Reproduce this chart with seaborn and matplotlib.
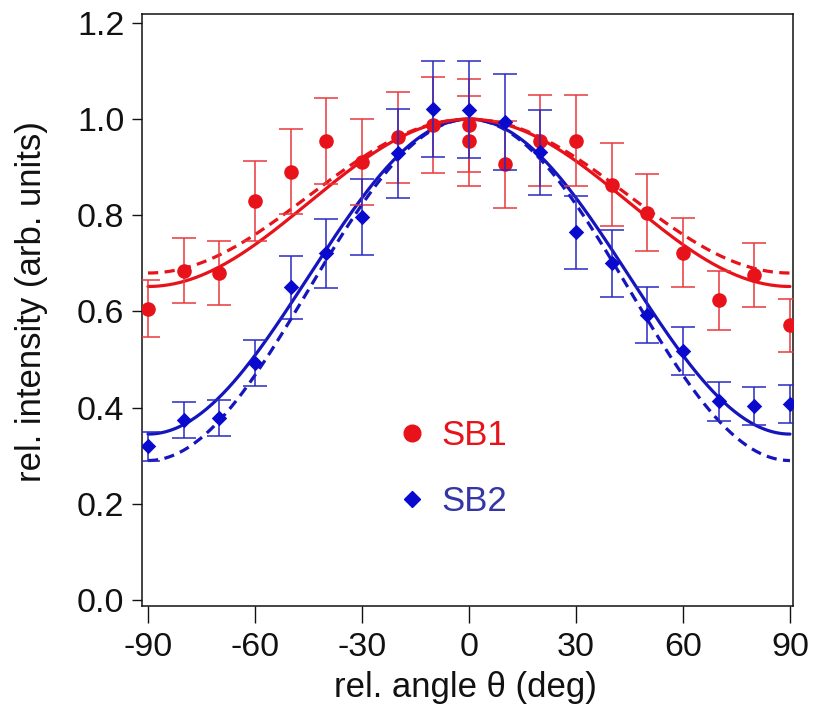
import numpy as np
import pandas as pd
import matplotlib
matplotlib.use("Agg")
import matplotlib.pyplot as plt
from matplotlib.lines import Line2D
import seaborn as sns

# ---- data ----
sb1_angle = [-90, -80, -70, -60, -50, -40, -30, -20, -10, 0, 0, 10, 20, 30, 40, 50, 60, 70, 80, 90]
sb1_value = [0.606, 0.685, 0.680, 0.830, 0.891, 0.955, 0.911, 0.962, 0.987, 0.987, 0.955,
             0.906, 0.955, 0.955, 0.864, 0.805, 0.722, 0.623, 0.676, 0.571]
sb1_err = [0.060, 0.068, 0.067, 0.083, 0.088, 0.089, 0.090, 0.095, 0.100, 0.096, 0.094,
           0.090, 0.095, 0.095, 0.087, 0.080, 0.072, 0.061, 0.067, 0.056]

sb2_angle = [-90, -80, -70, -60, -50, -40, -30, -20, -10, 0, 10, 20, 30, 40, 50, 60, 70, 80, 90]
sb2_value = [0.320, 0.374, 0.379, 0.493, 0.650, 0.721, 0.796, 0.929, 1.021, 1.020,
             0.994, 0.931, 0.765, 0.700, 0.593, 0.518, 0.413, 0.403, 0.408]
sb2_err = [0.030, 0.037, 0.037, 0.048, 0.065, 0.072, 0.079, 0.092, 0.100, 0.100,
           0.100, 0.089, 0.076, 0.070, 0.058, 0.050, 0.040, 0.040, 0.040]

# fit curves: offset + (1 - offset) * cos^2(theta)
fit_offset = {"SB1 solid": 0.652, "SB1 dashed": 0.680, "SB2 solid": 0.345, "SB2 dashed": 0.290}

x_ticks = [-90, -60, -30, 0, 30, 60, 90]
y_ticks = [0.0, 0.2, 0.4, 0.6, 0.8, 1.0, 1.2]

RED = "#E8121A"
RED_BAR = "#E8393D"
BLUE = "#0A0ACF"
BLUE_BAR = "#2828C4"
BLUE_LINE = "#1515BE"
BLUE_TXT = "#3535A5"

sns.set_theme(style="ticks")
plt.rcParams["font.family"] = ["Liberation Sans", "DejaVu Sans"]

fig = plt.figure(figsize=(8.16, 7.14), dpi=100)
ax = fig.add_axes([0.1746, 0.1513, 0.7972, 0.8284])

theta = np.linspace(-90, 90, 361)
fit_rows = []
for name, a in fit_offset.items():
    for t in theta:
        fit_rows.append({"angle": t, "value": a + (1 - a) * np.cos(np.radians(t)) ** 2, "curve": name})
fits = pd.DataFrame(fit_rows)

line_style = {
    "SB2 dashed": (BLUE_LINE, (3.2, 2.0)),
    "SB2 solid": (BLUE_LINE, None),
    "SB1 dashed": (RED, (3.2, 2.0)),
    "SB1 solid": (RED, None),
}
for name, (col, dash) in line_style.items():
    d = fits[fits["curve"] == name]
    sns.lineplot(data=d, x="angle", y="value", ax=ax, color=col, lw=2.3,
                 estimator=None, sort=True, zorder=2)
    if dash is not None:
        ax.lines[-1].set_dashes(dash)

df1 = pd.DataFrame({"angle": sb1_angle, "value": sb1_value, "err": sb1_err})
df2 = pd.DataFrame({"angle": sb2_angle, "value": sb2_value, "err": sb2_err})

ax.errorbar(df1["angle"], df1["value"], yerr=df1["err"], fmt="none", ecolor=RED_BAR,
            elinewidth=1.1, capsize=8.5, capthick=1.1, zorder=3)
sns.scatterplot(data=df1, x="angle", y="value", ax=ax, color=RED, marker="o", s=110,
                edgecolor=RED, linewidth=0, zorder=4)
ax.errorbar(df2["angle"], df2["value"], yerr=df2["err"], fmt="none", ecolor=BLUE_BAR,
            elinewidth=1.1, capsize=8.5, capthick=1.1, zorder=5)
sns.scatterplot(data=df2, x="angle", y="value", ax=ax, color=BLUE, marker="D", s=62,
                edgecolor=BLUE, linewidth=0, zorder=6)

ax.set_xlim(-91.55, 90.85)
ax.set_ylim(-0.0125, 1.2177)
ax.set_xticks(x_ticks)
ax.set_xticklabels([str(v) for v in x_ticks])
ax.set_yticks(y_ticks)
ax.set_yticklabels([f"{v:.1f}" for v in y_ticks])

for sp in ax.spines.values():
    sp.set_visible(True)
    sp.set_color("#111111")
    sp.set_linewidth(1.1)

ax.tick_params(axis="x", direction="out", length=12, width=1.0, pad=7,
               labelsize=24.5, colors="#111111")
ax.tick_params(axis="y", direction="out", length=7, width=1.0, pad=6,
               labelsize=24.5, colors="#111111")

ax.set_xlabel("rel. angle θ (deg)", fontsize=25, color="#111111")
ax.set_ylabel("rel. intensity (arb. units)", fontsize=25, color="#111111")
ax.xaxis.set_label_coords(0.496, -0.11)
ax.yaxis.set_label_coords(-0.145, 0.515)

handles = [
    Line2D([], [], linestyle="none", marker="o", markersize=12, color=RED),
    Line2D([], [], linestyle="none", marker="D", markersize=8.5, color=BLUE),
]
leg = ax.legend(handles, ["SB1", "SB2"], loc="center", bbox_to_anchor=(0.479, 0.232),
                frameon=False, fontsize=25, handlelength=0.6, handletextpad=0.55,
                labelspacing=0.95)
leg.get_texts()[0].set_color(RED)
leg.get_texts()[1].set_color(BLUE_TXT)

fig.savefig("out.png", dpi=100)
